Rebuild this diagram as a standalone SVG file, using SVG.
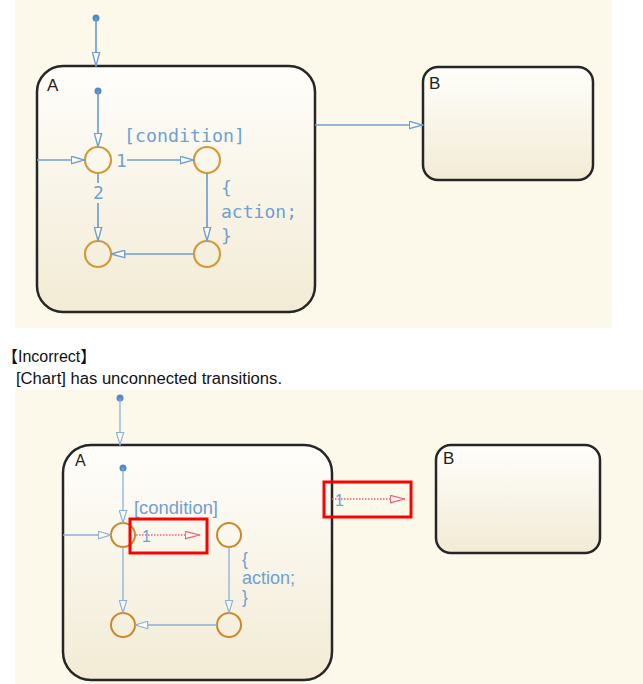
<svg xmlns="http://www.w3.org/2000/svg" width="643" height="684" viewBox="0 0 643 684">
<defs>
<linearGradient id="sg" x1="0" y1="0" x2="0" y2="1">
<stop offset="0" stop-color="#fffefb"/>
<stop offset="1" stop-color="#f2ebd5"/>
</linearGradient>
<marker id="ah" viewBox="0 0 15 9" refX="14.5" refY="4.5" markerWidth="15" markerHeight="9" markerUnits="userSpaceOnUse" orient="auto">
<path d="M0.8,0.8 L14.2,4.5 L0.8,8.2 Z" fill="#fdfbf2" stroke="#6f9fd3" stroke-width="1.4"/>
</marker>
<marker id="ah2" viewBox="0 0 14 9" refX="13.5" refY="4.5" markerWidth="14" markerHeight="9" markerUnits="userSpaceOnUse" orient="auto">
<path d="M0.8,0.8 L13.2,4.5 L0.8,8.2 Z" fill="#fdfbf2" stroke="#8bb0da" stroke-width="1.2"/>
</marker>
<marker id="ahr" viewBox="0 0 16 9" refX="15.5" refY="4.5" markerWidth="16" markerHeight="9" markerUnits="userSpaceOnUse" orient="auto">
<path d="M0.8,0.8 L15.2,4.5 L0.8,8.2 Z" fill="#fdfbf2" stroke="#f0607a" stroke-width="1.2"/>
</marker>
</defs>
<style>
.bg{fill:#fdf9ea}
.st{fill:url(#sg);stroke:#262626;stroke-width:2.5}
.jn{fill:none;stroke:#d29a38;stroke-width:2.2}
.jn2{fill:none;stroke:#c8892a;stroke-width:2}
.ln{fill:none;stroke:#6f9fd3;stroke-width:1.7}
.ln2{fill:none;stroke:#8bb0da;stroke-width:1.3}
.dot{fill:#4f8bca}
.lbl{font-family:"DejaVu Sans Mono",monospace;font-size:18px;fill:#6f9fd3}
.lbl2{font-family:"Liberation Sans",Arial,sans-serif;font-size:17.5px;fill:#6f9fd3}
.sn{font-family:"Liberation Sans",Arial,sans-serif;font-size:17px;fill:#222}
.txt{font-family:"Liberation Sans",Arial,"Noto Sans CJK JP",sans-serif;font-size:16px;fill:#111}
.red{fill:none;stroke:#ff0000;stroke-width:3}
.pk{fill:none;stroke:#f0607a;stroke-width:1.3;stroke-dasharray:1.5 1.5}
</style>
<rect width="643" height="684" fill="#ffffff"/>
<!-- top panel -->
<rect class="bg" x="15" y="0" width="597" height="328"/>
<g id="top-A">
<rect class="st" x="37" y="66" width="278" height="246" rx="26"/>
<text class="sn" x="47" y="91">A</text>
</g>
<g id="top-B">
<rect class="st" x="423" y="67" width="170" height="113" rx="15"/>
<text class="sn" x="429" y="89">B</text>
</g>
<g id="top-junctions">
<circle id="tj1" class="jn" cx="98" cy="160" r="13"/>
<circle id="tj2" class="jn" cx="207" cy="160" r="13"/>
<circle id="tj3" class="jn" cx="98" cy="254" r="13"/>
<circle id="tj4" class="jn" cx="207" cy="254" r="13"/>
</g>
<g id="top-connectors">
<circle class="dot" cx="96" cy="18" r="3.5"/>
<path class="ln" d="M96,18 V66" marker-end="url(#ah)"/>
<circle class="dot" cx="98" cy="91" r="3.5"/>
<path class="ln" d="M98,91 V147" marker-end="url(#ah)"/>
<path class="ln" d="M37,160 H85" marker-end="url(#ah)"/>
<path class="ln" d="M127,160 H194" marker-end="url(#ah)"/>
<path class="ln" d="M207,173 V241" marker-end="url(#ah)"/>
<path class="ln" d="M194,254 H111" marker-end="url(#ah)"/>
<path class="ln" d="M98,173 V183"/>
<path class="ln" d="M98,203 V241" marker-end="url(#ah)"/>
<path class="ln" d="M315,125 H423" marker-end="url(#ah)"/>
<text class="lbl" x="124" y="142" textLength="121" lengthAdjust="spacingAndGlyphs">[condition]</text>
<text class="lbl" x="116" y="167">1</text>
<text class="lbl" x="93" y="199">2</text>
<text class="lbl" x="221" y="194">{</text>
<text class="lbl" x="221" y="218" textLength="76" lengthAdjust="spacingAndGlyphs">action;</text>
<text class="lbl" x="221" y="242">}</text>
</g>
<!-- caption -->
<text class="txt" x="2" y="362">【Incorrect】</text>
<text class="txt" x="16" y="384" textLength="266" lengthAdjust="spacingAndGlyphs">[Chart] has unconnected transitions.</text>
<!-- bottom panel -->
<rect class="bg" x="15" y="390" width="628" height="294"/>
<g id="bot-A">
<rect class="st" x="63" y="445" width="269" height="235" rx="28"/>
<text class="sn" x="75" y="466" style="font-size:16px">A</text>
</g>
<g id="bot-B">
<rect class="st" x="436" y="445" width="164" height="108" rx="15"/>
<text class="sn" x="443" y="464">B</text>
</g>
<g id="bot-junctions">
<circle id="bj1" class="jn2" cx="123" cy="535" r="12"/>
<circle id="bj2" class="jn2" cx="229" cy="535" r="12"/>
<circle id="bj3" class="jn2" cx="123" cy="625" r="12"/>
<circle id="bj4" class="jn2" cx="229" cy="625" r="12"/>
</g>
<g id="bot-connectors">
<circle class="dot" cx="120" cy="398" r="3.5"/>
<path class="ln2" d="M120,398 V445" marker-end="url(#ah2)"/>
<circle class="dot" cx="123" cy="468" r="3.5"/>
<path class="ln2" d="M123,468 V523" marker-end="url(#ah2)"/>
<path class="ln2" d="M63,535 H111" marker-end="url(#ah2)"/>
<path class="ln2" d="M123,547 V613" marker-end="url(#ah2)"/>
<path class="ln2" d="M229,547 V613" marker-end="url(#ah2)"/>
<path class="ln2" d="M217,625 H135" marker-end="url(#ah2)"/>
<path class="pk" d="M136,535 H200" marker-end="url(#ahr)"/>
<path class="pk" d="M332,499 H405" marker-end="url(#ahr)"/>
<text class="lbl2" x="134" y="514" textLength="84" lengthAdjust="spacingAndGlyphs">[condition]</text>
<text class="lbl2" x="142" y="542" style="font-size:16px">1</text>
<text class="lbl2" x="335" y="506" style="font-size:16px">1</text>
<text class="lbl2" x="242" y="565">{</text>
<text class="lbl2" x="242" y="584" textLength="53" lengthAdjust="spacingAndGlyphs">action;</text>
<text class="lbl2" x="242" y="603">}</text>
</g>
<g id="highlights">
<rect class="red" x="130" y="519" width="77" height="34"/>
<rect class="red" x="324" y="482" width="87" height="35"/>
</g>
</svg>
